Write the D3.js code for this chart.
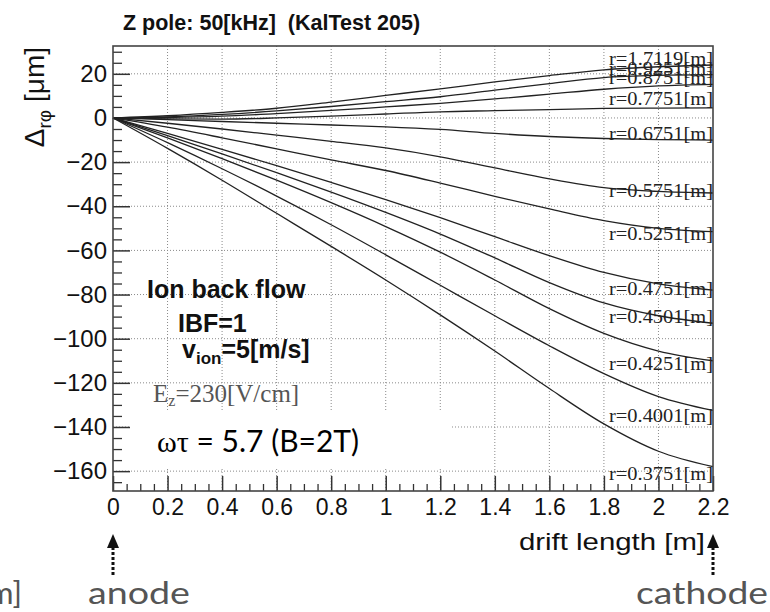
<!DOCTYPE html>
<html>
<head>
<meta charset="utf-8">
<script src="https://cdn.jsdelivr.net/npm/d3@7"></script>
<style>
  html, body { margin: 0; padding: 0; background: #fff; }
  svg { display: block; }
</style>
</head>
<body>
<svg id="chart" width="770" height="612"></svg>
<script>
// ---------------- data ----------------
const driftX = [0, 0.2, 0.4, 0.6, 0.8, 1.0, 1.2, 1.4, 1.6, 1.8, 2.0, 2.2];

const r1_7119 = [0, 1.0, 2.5, 4.4, 7.2, 10.2, 13.2, 16.3, 19.2, 21.8, 23.2, 24.0];
const r0_9251 = [0, 0.5, 1.6, 3.2, 5.2, 7.4, 9.6, 12.6, 15.6, 18.3, 19.3, 19.6];
const r0_8751 = [0, 0.2, 0.8, 2.0, 3.4, 5.0, 6.6, 8.6, 10.8, 13.0, 14.5, 15.2];
const r0_7751 = [0, -0.4, -0.5, 0, 0.8, 1.8, 2.8, 3.3, 3.8, 4.3, 4.5, 4.6];
const r0_6751 = [0, -0.8, -1.6, -2.4, -3.2, -4.0, -5.2, -7.0, -8.4, -9.3, -9.8, -10.0];
const r0_5751 = [0, -2.4, -5.0, -7.8, -10.6, -13.6, -17.6, -22.6, -27.6, -31.6, -33.3, -34.0];
const r0_5251 = [0, -4.2, -9.0, -14.0, -19.0, -23.8, -29.5, -35.5, -41.2, -46.5, -50.0, -51.5];
const r0_4751 = [0, -7.0, -14.2, -21.6, -29.2, -37.0, -45.2, -53.8, -62.4, -70.0, -75.2, -78.0];
const r0_4501 = [0, -8.0, -16.3, -24.8, -33.6, -42.8, -52.6, -63.4, -74.6, -83.8, -89.6, -93.0];
const r0_4251 = [0, -9.0, -18.4, -28.2, -38.4, -49.2, -60.8, -73.4, -86.4, -97.6, -105.6, -110.0];
const r0_4001 = [0, -11.2, -23.0, -35.4, -48.4, -62.0, -75.8, -89.6, -103.2, -115.8, -126.2, -132.5];
const r0_3751 = [0, -13.8, -28.2, -43.2, -58.2, -73.4, -89.2, -105.6, -122.6, -138.6, -151.0, -158.0];

const radiusLabels = ["r=1.7119[m]", "r=0.9251[m]", "r=0.8751[m]", "r=0.7751[m]", "r=0.6751[m]",
  "r=0.5751[m]", "r=0.5251[m]", "r=0.4751[m]", "r=0.4501[m]", "r=0.4251[m]", "r=0.4001[m]", "r=0.3751[m]"];
// value (µm) at which each label's baseline sits
const labelAt = [24, 19.5, 15.4, 5.9, -10, -35.7, -55.2, -80.1, -92.8, -114, -137.6, -163.8];

const xTicks = [0, 0.2, 0.4, 0.6, 0.8, 1, 1.2, 1.4, 1.6, 1.8, 2, 2.2];
const yTicks = [-160, -140, -120, -100, -80, -60, -40, -20, 0, 20];
const xDomain = [0, 2.2];
const yDomain = [-169, 32.6];

const allSeries = [r1_7119, r0_9251, r0_8751, r0_7751, r0_6751, r0_5751, r0_5251,
  r0_4751, r0_4501, r0_4251, r0_4001, r0_3751];

// ---------------- layout ----------------
const L = 113, R = 713, T = 46, B = 491;
const svg = d3.select("#chart");
const x = d3.scaleLinear().domain(xDomain).range([L, R]);
const y = d3.scaleLinear().domain(yDomain).range([B, T]);

const sans = "'Liberation Sans', Arial, Helvetica, sans-serif";
const serif = "'Liberation Serif', 'Times New Roman', serif";

// grid
const grid = svg.append("g").attr("stroke", "#8a8a8a").attr("stroke-width", 1)
  .attr("stroke-dasharray", "1,2");
xTicks.filter(v => v > 0 && v < 2.2).forEach(v => {
  grid.append("line").attr("x1", x(v)).attr("x2", x(v)).attr("y1", T).attr("y2", B);
});
yTicks.forEach(v => {
  grid.append("line").attr("x1", L).attr("x2", R).attr("y1", y(v)).attr("y2", y(v));
});

// minor ticks
const yMinor = d3.range(-165, 33, 5).filter(v => !yTicks.includes(v));
const xMinor = d3.range(0, 2.2001, 0.05).map(v => +v.toFixed(2)).filter(v => !xTicks.some(t => Math.abs(t - v) < 1e-6));

svg.append("g").attr("transform", `translate(${L},0)`)
  .call(d3.axisLeft(y).tickValues(yMinor).tickSize(-9).tickFormat(""))
  .call(g => g.select(".domain").remove())
  .selectAll("line").attr("stroke", "#333").attr("stroke-width", 1.3);
svg.append("g").attr("transform", `translate(0,${B})`)
  .call(d3.axisBottom(x).tickValues(xMinor).tickSize(-7).tickFormat(""))
  .call(g => g.select(".domain").remove())
  .selectAll("line").attr("stroke", "#333").attr("stroke-width", 1.3);

// major ticks + labels
const yAx = svg.append("g").attr("transform", `translate(${L},0)`)
  .call(d3.axisLeft(y).tickValues(yTicks).tickSize(-17).tickPadding(6).tickFormat(d3.format("d")));
yAx.select(".domain").remove();
yAx.selectAll("line").attr("stroke", "#333").attr("stroke-width", 1.5);
yAx.selectAll("text").attr("font-family", sans).attr("font-size", 24).attr("fill", "#111");

const xAx = svg.append("g").attr("transform", `translate(0,${B})`)
  .call(d3.axisBottom(x).tickValues(xTicks).tickSize(-15).tickPadding(8).tickFormat(d3.format("~g")));
xAx.select(".domain").remove();
xAx.selectAll("line").attr("stroke", "#333").attr("stroke-width", 1.5);
xAx.selectAll("text").attr("font-family", sans).attr("font-size", 23).attr("fill", "#111");

// curves
const line = d3.line().x((d, i) => x(driftX[i])).y(d => y(d)).curve(d3.curveMonotoneX);
svg.append("g").selectAll("path").data(allSeries).join("path")
  .attr("d", d => line(d)).attr("fill", "none").attr("stroke", "#222").attr("stroke-width", 1.3);

// radius labels
svg.append("g").selectAll("text").data(radiusLabels).join("text")
  .attr("x", R).attr("y", (d, i) => y(labelAt[i]))
  .attr("text-anchor", "end")
  .attr("font-family", serif).attr("font-size", 18).attr("fill", "#222")
  .attr("textLength", 104).attr("lengthAdjust", "spacingAndGlyphs")
  .text(d => d);

// white box behind the ωτ annotation
svg.append("rect").attr("x", 131).attr("y", 410).attr("width", 319).attr("height", 59).attr("fill", "#fff");

// frame
svg.append("rect").attr("x", L).attr("y", T).attr("width", R - L).attr("height", B - T)
  .attr("fill", "none").attr("stroke", "#444").attr("stroke-width", 1.6);

// title
svg.append("text").attr("x", 123).attr("y", 30).attr("font-family", sans).attr("font-weight", "bold")
  .attr("font-size", 21.5).attr("fill", "#111").style("white-space", "pre")
  .text("Z pole: 50[kHz]\u00a0 (KalTest 205)");

// y-axis title
const yt = svg.append("text").attr("transform", `translate(44,${T + 1}) rotate(-90)`)
  .attr("text-anchor", "end").attr("font-family", sans).attr("font-size", 28).attr("fill", "#111");
yt.append("tspan").text("Δ");
yt.append("tspan").attr("font-size", 19).attr("dy", 7).text("rφ");
yt.append("tspan").attr("dy", -7).text(" [μm]");

// annotations inside plot
const ann = svg.append("g").attr("font-family", sans).attr("font-weight", "bold").attr("fill", "#111");
ann.append("text").attr("x", 147).attr("y", 298).attr("font-size", 25).text("Ion back flow");
ann.append("text").attr("x", 178).attr("y", 332).attr("font-size", 25).text("IBF=1");
const vt = ann.append("text").attr("x", 182).attr("y", 358).attr("font-size", 25);
vt.append("tspan").text("v");
vt.append("tspan").attr("font-size", 17).attr("dy", 6).text("ion");
vt.append("tspan").attr("dy", -6).text("=5[m/s]");

const ez = svg.append("text").attr("x", 153).attr("y", 402).attr("font-family", serif)
  .attr("font-size", 25).attr("fill", "#555");
ez.append("tspan").text("E");
ez.append("tspan").attr("font-size", 16).attr("dy", 4).text("z");
ez.append("tspan").attr("dy", -4).text("=230[V/cm]");

const wt = svg.append("text").attr("x", 157).attr("y", 452).attr("font-family", "Lato, 'Open Sans', sans-serif")
  .attr("font-size", 30).attr("fill", "#000");
wt.append("tspan").attr("font-family", serif).text("ωτ");
wt.append("tspan").text(" = 5.7 (B=2T)");

// x-axis title
svg.append("text").attr("x", 705).attr("y", 550).attr("text-anchor", "end")
  .attr("font-family", sans).attr("font-size", 24).attr("fill", "#111")
  .attr("textLength", 186).attr("lengthAdjust", "spacingAndGlyphs").text("drift length [m]");

// anode / cathode arrows
function arrow(px) {
  const g = svg.append("g");
  g.append("line").attr("x1", px).attr("x2", px).attr("y1", 575).attr("y2", 547)
    .attr("stroke", "#111").attr("stroke-width", 3).attr("stroke-dasharray", "3,2");
  g.append("path").attr("d", `M${px - 6},${548} L${px},${534} L${px + 6},${548} Z`).attr("fill", "#111");
}
arrow(x(0));
arrow(x(2.2));

const bottomFont = "Lato, 'Open Sans', sans-serif";
svg.append("text").attr("x", 88).attr("y", 604).attr("font-family", bottomFont).attr("font-size", 31)
  .attr("fill", "#555").attr("textLength", 102).attr("lengthAdjust", "spacingAndGlyphs").text("anode");
svg.append("text").attr("x", 636).attr("y", 604).attr("font-family", bottomFont).attr("font-size", 31)
  .attr("fill", "#555").attr("textLength", 132).attr("lengthAdjust", "spacingAndGlyphs").text("cathode");
svg.append("text").attr("x", 22).attr("y", 604).attr("text-anchor", "end").attr("font-family", bottomFont)
  .attr("font-size", 31).attr("fill", "#555").text("m]");
</script>
</body>
</html>
